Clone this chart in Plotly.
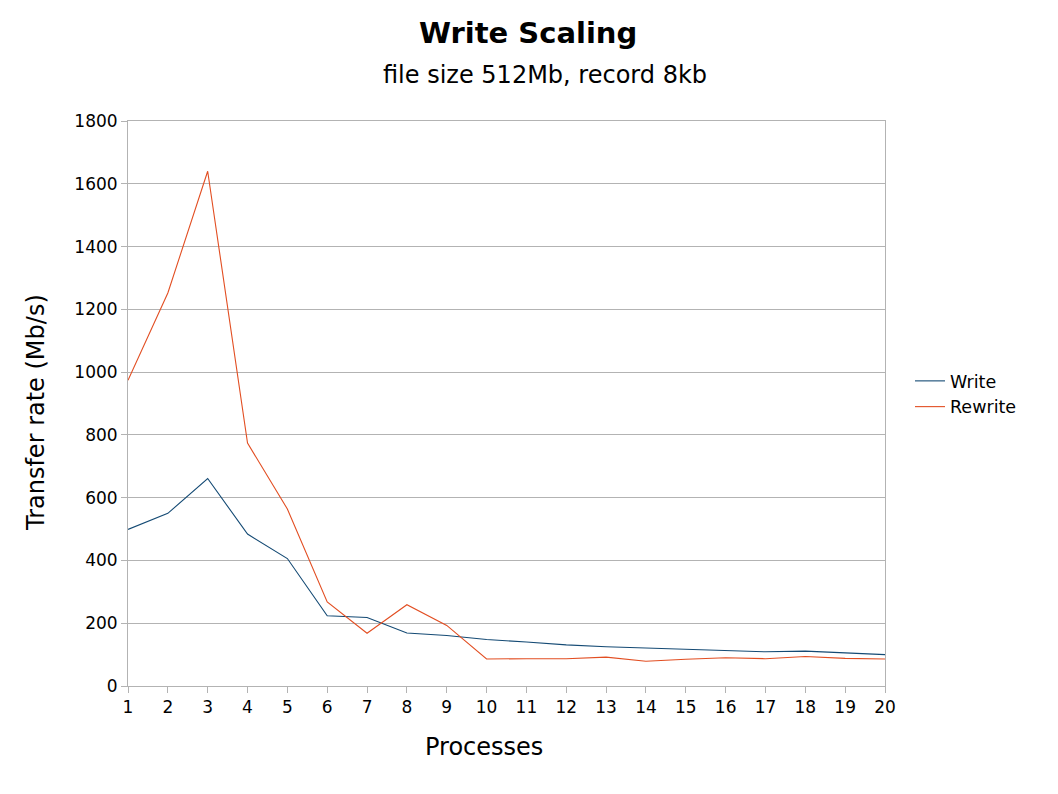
import plotly.graph_objects as go

processes = list(range(1, 21))
write_vals = [499, 550, 661, 484, 406, 224, 218, 169, 161, 148, 140, 131, 125, 121, 116, 113, 109, 111, 106, 100]
rewrite_vals = [974, 1252, 1640, 774, 564, 268, 168, 259, 193, 86, 87, 87, 92, 79, 85, 90, 87, 94, 88, 86]
y_ticks = list(range(0, 1801, 200))

FONT = "DejaVu Sans"
GRID = "#b3b3b3"

# page has an 8px body margin; size figure so the plot lands where the reference has it
W, H = 1050, 786
ML, MR, MT, MB = 120, 173, 113, 108
plot_w = W - ML - MR
plot_h = H - MT - MB


def paper_x(px):
    return (px - 8 - ML) / plot_w


def paper_y(py):
    return (H - (py - 8) - MB) / plot_h


fig = go.Figure()
fig.add_trace(go.Scatter(x=processes, y=write_vals, mode="lines", name="Write",
                         line=dict(color="#144a74", width=1.1)))
fig.add_trace(go.Scatter(x=processes, y=rewrite_vals, mode="lines", name="Rewrite",
                         line=dict(color="#e24e22", width=1.1)))

fig.update_layout(
    width=W, height=H,
    paper_bgcolor="white", plot_bgcolor="white",
    margin=dict(l=ML, r=MR, t=MT, b=MB),
    font=dict(family=FONT, color="black", size=17),
    showlegend=True,
    legend=dict(x=paper_x(910), y=paper_y(394), xanchor="left", yanchor="middle",
                font=dict(family=FONT, size=17.5), tracegroupgap=0,
                bgcolor="rgba(0,0,0,0)"),
    annotations=[
        dict(text="<b>Write Scaling</b>", x=paper_x(528), y=paper_y(33), xref="paper", yref="paper",
             xanchor="center", yanchor="middle",
             showarrow=False, font=dict(size=29, family=FONT)),
        dict(text="file size 512Mb, record 8kb", x=paper_x(545), y=paper_y(75), xref="paper", yref="paper",
             xanchor="center", yanchor="middle",
             showarrow=False, font=dict(size=24, family=FONT)),
        dict(text="Processes", x=paper_x(484), y=paper_y(747), xref="paper", yref="paper",
             xanchor="center", yanchor="middle",
             showarrow=False, font=dict(size=24, family=FONT)),
        dict(text="Transfer rate (Mb/s)", x=paper_x(36), y=paper_y(413), xref="paper", yref="paper",
             xanchor="center", yanchor="middle", textangle=-90,
             showarrow=False, font=dict(size=24, family=FONT)),
    ],
)

fig.update_xaxes(
    range=[1, 20], tickmode="array", tickvals=processes, ticktext=[str(p) for p in processes],
    showgrid=False, showline=True, linecolor=GRID, linewidth=1, mirror=True,
    ticks="outside", ticklen=6, tickcolor=GRID,
    tickfont=dict(size=17, family=FONT), zeroline=False,
)
fig.update_yaxes(
    range=[0, 1800], tickmode="array", tickvals=y_ticks, ticktext=[str(v) for v in y_ticks],
    showgrid=True, gridcolor=GRID, gridwidth=1,
    showline=True, linecolor=GRID, linewidth=1, mirror=True,
    ticks="outside", ticklen=6, tickcolor=GRID,
    tickfont=dict(size=17, family=FONT), zeroline=False,
)

fig.write_html("out.html")
